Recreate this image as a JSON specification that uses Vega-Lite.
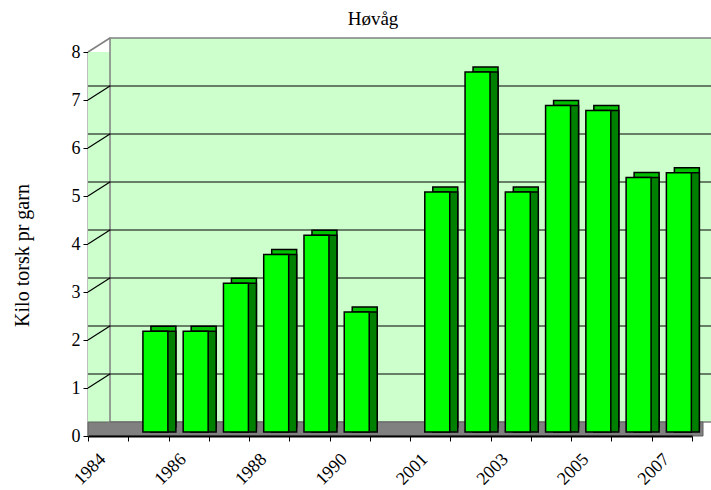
{
  "$schema": "https://vega.github.io/schema/vega-lite/v6.json",
  "width": 604,
  "height": 384,
  "autosize": "none",
  "padding": {"left": 88, "top": 52, "right": 19, "bottom": 54},
  "background": "white",
  "config": {
    "view": {"fill": "#CCFFCC", "stroke": null},
    "font": "'Liberation Serif', 'DejaVu Serif', serif"
  },
  "title": {
    "text": "Høvåg",
    "font": "'Liberation Serif', 'DejaVu Serif', serif",
    "fontSize": 19,
    "fontWeight": "normal",
    "color": "black",
    "anchor": "middle",
    "dx": -17,
    "offset": 8
  },
  "datasets": {
    "catch": [
      {"year": "1984", "kg": null},
      {"year": "1985", "kg": 2.1},
      {"year": "1986", "kg": 2.1},
      {"year": "1987", "kg": 3.1},
      {"year": "1988", "kg": 3.7},
      {"year": "1989", "kg": 4.1},
      {"year": "1990", "kg": 2.5},
      {"year": "2000", "kg": null},
      {"year": "2001", "kg": 5.0},
      {"year": "2002", "kg": 7.5},
      {"year": "2003", "kg": 5.0},
      {"year": "2004", "kg": 6.8},
      {"year": "2005", "kg": 6.7},
      {"year": "2006", "kg": 5.3},
      {"year": "2007", "kg": 5.4}
    ],
    "grid": [
      {"g": 1}, {"g": 2}, {"g": 3}, {"g": 4}, {"g": 5}, {"g": 6}, {"g": 7}
    ],
    "edges": [{"g": 0}, {"g": 8}],
    "one": [{"k": 1}]
  },
  "encoding": {
    "x": {
      "field": "year",
      "type": "nominal",
      "sort": null,
      "scale": {
        "domain": ["1984","1985","1986","1987","1988","1989","1990","2000","2001","2002","2003","2004","2005","2006","2007"],
        "paddingInner": 0,
        "paddingOuter": 0
      },
      "axis": {
        "title": null,
        "labelAngle": -45,
        "labelAlign": "right",
        "labelBaseline": "top",
        "labelFont": "'Liberation Serif', 'DejaVu Serif', serif",
        "labelFontSize": 18,
        "labelColor": "black",
        "labelExpr": "indexof(['1984','1986','1988','1990','2001','2003','2005','2007'], datum.label) >= 0 ? datum.label : ''",
        "labelOffset": -12,
        "labelPadding": 9,
        "labelOverlap": false,
        "labelBound": false,
        "tickBand": "extent",
        "tickColor": "black",
        "tickSize": 5,
        "domainColor": "black",
        "domainWidth": 2,
        "grid": false
      }
    }
  },
  "layer": [
    {
      "data": {"name": "one"},
      "mark": {"type": "rect", "fill": "#CCFFCC", "x2Offset": 22},
      "encoding": {
        "x": {"datum": "1984", "bandPosition": 0},
        "x2": {"datum": "1984", "bandPosition": 0},
        "y": {"datum": 8, "type": "quantitative"},
        "y2": {"datum": 0}
      }
    },
    {
      "data": {"name": "one"},
      "mark": {"type": "rect", "fill": "#CCFFCC", "stroke": "#808080", "strokeWidth": 1.5, "xOffset": 22, "x2Offset": 22, "yOffset": -14, "y2Offset": -14},
      "encoding": {
        "x": {"datum": "1984", "bandPosition": 0},
        "x2": {"datum": "2007", "bandPosition": 1},
        "y": {"datum": 8, "type": "quantitative"},
        "y2": {"datum": 0}
      }
    },
    {
      "data": {"name": "one"},
      "mark": {"type": "rect", "fill": "#808080", "stroke": "#606060", "strokeWidth": 1, "xOffset": 11, "x2Offset": 11, "yOffset": -14, "y2Offset": 0},
      "encoding": {
        "x": null,
        "y": {"datum": 0, "type": "quantitative"},
        "y2": {"datum": 0}
      }
    },
    {
      "data": {"name": "edges"},
      "mark": {"type": "rule", "color": "#808080", "strokeWidth": 1.5, "x2Offset": 22, "y2Offset": -14},
      "encoding": {
        "x": {"datum": "1984", "bandPosition": 0},
        "x2": {"datum": "1984", "bandPosition": 0},
        "y": {"field": "g", "type": "quantitative"},
        "y2": {"field": "g"}
      }
    },
    {
      "data": {"name": "grid"},
      "mark": {"type": "rule", "color": "black", "strokeWidth": 1.2, "xOffset": 22, "x2Offset": 22, "yOffset": -14},
      "encoding": {
        "x": null,
        "y": {"field": "g", "type": "quantitative"}
      }
    },
    {
      "data": {"name": "grid"},
      "mark": {"type": "rule", "color": "black", "strokeWidth": 1.2, "x2Offset": 22, "y2Offset": -14},
      "encoding": {
        "x": {"datum": "1984", "bandPosition": 0},
        "x2": {"datum": "1984", "bandPosition": 0},
        "y": {"field": "g", "type": "quantitative"},
        "y2": {"field": "g"}
      }
    },
    {
      "data": {"name": "catch"},
      "mark": {"type": "bar", "fill": "#00C000", "stroke": "black", "strokeWidth": 1.5, "width": {"band": 0.62}, "xOffset": 15, "yOffset": -9, "y2Offset": -9},
      "encoding": {
        "y": {"field": "kg", "type": "quantitative"}
      }
    },
    {
      "data": {"name": "catch"},
      "mark": {"type": "bar", "fill": "#008000", "stroke": "black", "strokeWidth": 1.5, "width": {"band": 0.62}, "xOffset": 15, "yOffset": -4, "y2Offset": -9},
      "encoding": {
        "y": {"field": "kg", "type": "quantitative"}
      }
    },
    {
      "data": {"name": "catch"},
      "mark": {"type": "bar", "fill": "#00FF00", "stroke": "black", "strokeWidth": 1.5, "width": {"band": 0.62}, "xOffset": 7, "yOffset": -4, "y2Offset": -4},
      "encoding": {
        "y": {
          "field": "kg",
          "type": "quantitative",
          "scale": {"domain": [0, 8], "nice": false, "zero": true},
          "axis": {
            "title": "Kilo torsk pr garn",
            "titleFont": "'Liberation Serif', 'DejaVu Serif', serif",
            "titleFontSize": 20,
            "titleFontWeight": "normal",
            "titleColor": "black",
            "titleX": -66,
            "titleY": 203,
            "titleAngle": -90,
            "titleAlign": "center",
            "titleBaseline": "middle",
            "values": [0,1,2,3,4,5,6,7,8],
            "labelFont": "'Liberation Serif', 'DejaVu Serif', serif",
            "labelFontSize": 18,
            "labelColor": "black",
            "labelPadding": 3,
            "tickSize": 5,
            "tickColor": "black",
            "domainColor": "black",
            "domainWidth": 1.5,
            "grid": false
          }
        }
      }
    }
  ]
}
